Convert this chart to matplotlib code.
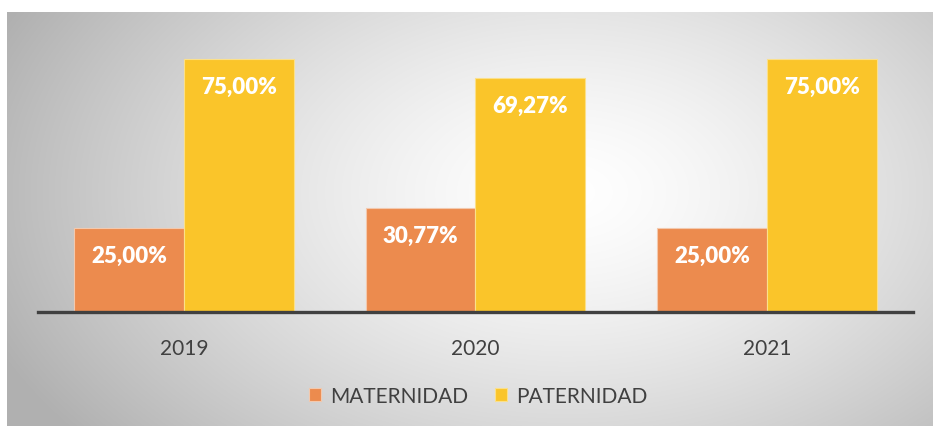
import matplotlib.pyplot as plt
import numpy as np

plt.rcParams['font.family'] = ['Lato', 'DejaVu Sans']

# data
years = ["2019", "2020", "2021"]
maternidad = [25.00, 30.77, 25.00]
paternidad = [75.00, 69.27, 75.00]
series_names = ["MATERNIDAD", "PATERNIDAD"]

c_mat = "#EC8B4E"
c_pat = "#FAC52A"
txt = "#404040"

W, H = 933, 427
fig = plt.figure(figsize=(W / 100, H / 100), dpi=100)
fig.patch.set_facecolor("white")

# radial gradient background box
bg = fig.add_axes([7 / W, 0, 1 - 7 / W, (H - 13) / H])
bg.set_axis_off()
yy, xx = np.mgrid[0:414, 0:926]
cx, cy = 560, 180
r = np.sqrt(((xx - cx) / 520) ** 2 + ((yy - cy) / 330) ** 2)
v = 1 - 0.24 * np.clip(r, 0, 1.2) ** 1.4
bg.imshow(np.dstack([v, v, v]), aspect="auto", interpolation="bilinear")

ax = fig.add_axes([38 / W, 114 / H, 875 / W, 270 / H])
ax.patch.set_alpha(0)

x = np.arange(len(years))
bw = 0.377
b1 = ax.bar(x - bw / 2, maternidad, bw, color=c_mat, edgecolor="#f3c9ae", linewidth=0.8, label=series_names[0])
b2 = ax.bar(x + bw / 2, paternidad, bw, color=c_pat, edgecolor="#fbe08a", linewidth=0.8, label=series_names[1])

for bars, vals in [(b1, maternidad), (b2, paternidad)]:
    for b, val in zip(bars, vals):
        ax.text(b.get_x() + b.get_width() / 2, val - 8.2, f"{val:.2f}%".replace(".", ","),
                ha="center", va="center", color="white", fontsize=16, fontweight="heavy")

ax.set_xlim(-0.5, 2.5)
ax.set_ylim(0, 80)
ax.set_xticks(x)
ax.set_xticklabels(years, fontsize=15, color=txt)
ax.tick_params(axis="x", length=0, pad=19)
ax.set_yticks([])
for s in ["top", "left", "right"]:
    ax.spines[s].set_visible(False)
ax.spines["bottom"].set_color(txt)
ax.spines["bottom"].set_linewidth(2.4)

fig.legend(handles=[b1, b2], labels=series_names, loc="center", bbox_to_anchor=(478 / W, 1 - 397 / H),
           ncol=2, frameon=False, fontsize=15, labelcolor=txt, handlelength=0.6, handleheight=0.6,
           handletextpad=0.4, columnspacing=1.3)

fig.savefig("out.png", dpi=100)
